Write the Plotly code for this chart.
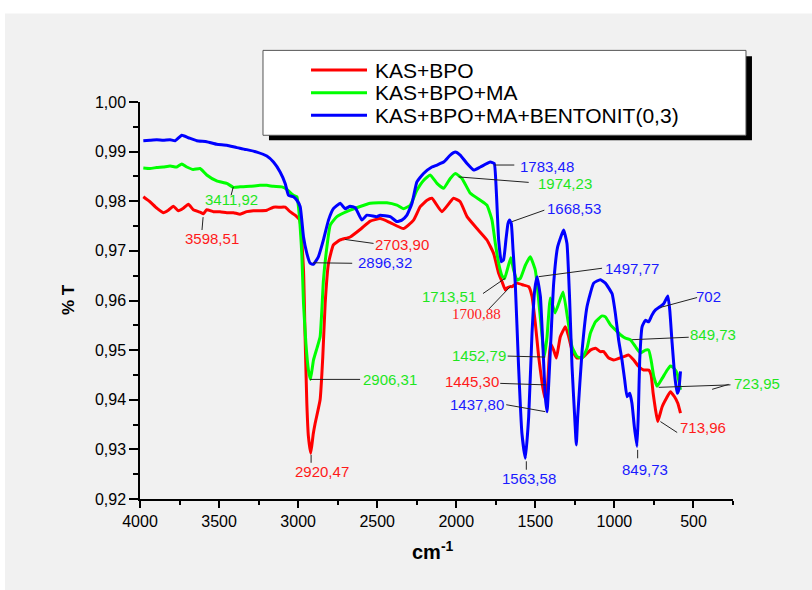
import plotly.graph_objects as go

# ---------------- data (wavenumber cm-1, transmittance) ----------------
red_spectrum = [
    (3979, 0.9809), (3937, 0.9799), (3894, 0.9786), (3853, 0.9777), (3821, 0.9782),
    (3789, 0.9790), (3758, 0.9781), (3726, 0.9786), (3694, 0.9794), (3663, 0.9783),
    (3620, 0.9778), (3599, 0.9775), (3578, 0.9783), (3536, 0.9779), (3494, 0.9779),
    (3451, 0.9777), (3409, 0.9777), (3367, 0.9774), (3325, 0.9779), (3283, 0.9781),
    (3241, 0.9781), (3198, 0.9782), (3156, 0.9788), (3114, 0.9788), (3082, 0.9788),
    (3051, 0.9779), (3019, 0.9772), (2990, 0.9762), (2966, 0.9661), (2956, 0.9527),
    (2945, 0.9393), (2935, 0.9326), (2920, 0.9292), (2905, 0.9330), (2892, 0.9353),
    (2861, 0.9400), (2844, 0.9487), (2829, 0.9594), (2808, 0.9675), (2777, 0.9712),
    (2734, 0.9722), (2671, 0.9728), (2600, 0.9745), (2544, 0.9760), (2481, 0.9765),
    (2418, 0.9757), (2334, 0.9745), (2270, 0.9762), (2228, 0.9789), (2185, 0.9802),
    (2154, 0.9806), (2091, 0.9779), (2017, 0.9806), (1975, 0.9799), (1932, 0.9769),
    (1869, 0.9745), (1806, 0.9722), (1764, 0.9695), (1732, 0.9655), (1711, 0.9638),
    (1690, 0.9621), (1681, 0.9625), (1658, 0.9628), (1647, 0.9628), (1616, 0.9635),
    (1574, 0.9631), (1542, 0.9628), (1521, 0.9608), (1500, 0.9554), (1479, 0.9487),
    (1457, 0.9433), (1440, 0.9403), (1422, 0.9433), (1405, 0.9514), (1384, 0.9500),
    (1367, 0.9484), (1342, 0.9527), (1310, 0.9547), (1289, 0.9527), (1268, 0.9500),
    (1236, 0.9484), (1194, 0.9487), (1152, 0.9500), (1120, 0.9504), (1089, 0.9497),
    (1068, 0.9497), (1036, 0.9484), (1004, 0.9480), (941, 0.9487), (909, 0.9490),
    (878, 0.9480), (846, 0.9467), (815, 0.9460), (783, 0.9460), (768, 0.9450),
    (755, 0.9413), (740, 0.9380), (726, 0.9356), (698, 0.9386), (671, 0.9403),
    (646, 0.9416), (620, 0.9406), (599, 0.9393), (582, 0.9373),
]

green_spectrum = [
    (3979, 0.9867), (3937, 0.9866), (3894, 0.9868), (3853, 0.9869), (3810, 0.9871),
    (3768, 0.9869), (3736, 0.9875), (3704, 0.9869), (3663, 0.9864), (3620, 0.9866),
    (3578, 0.9853), (3515, 0.9841), (3451, 0.9836), (3409, 0.9828), (3367, 0.9829),
    (3304, 0.9830), (3241, 0.9832), (3198, 0.9832), (3156, 0.9830), (3103, 0.9829),
    (3072, 0.9824), (3030, 0.9812), (3008, 0.9809), (2998, 0.9789), (2977, 0.9695),
    (2966, 0.9594), (2951, 0.9514), (2935, 0.9460), (2922, 0.9441), (2903, 0.9480),
    (2880, 0.9505), (2861, 0.9527), (2850, 0.9581), (2840, 0.9641), (2818, 0.9708),
    (2797, 0.9752), (2755, 0.9769), (2671, 0.9782), (2544, 0.9796), (2439, 0.9797),
    (2375, 0.9792), (2334, 0.9785), (2291, 0.9792), (2249, 0.9822), (2207, 0.9842),
    (2165, 0.9853), (2122, 0.9836), (2080, 0.9826), (2038, 0.9846), (2006, 0.9856),
    (1964, 0.9846), (1911, 0.9816), (1848, 0.9802), (1806, 0.9792), (1774, 0.9762),
    (1753, 0.9715), (1732, 0.9675), (1711, 0.9650), (1695, 0.9644), (1675, 0.9665),
    (1655, 0.9686), (1637, 0.9661), (1616, 0.9641), (1594, 0.9645), (1563, 0.9671),
    (1532, 0.9688), (1500, 0.9661), (1479, 0.9601), (1457, 0.9527), (1443, 0.9487),
    (1426, 0.9527), (1405, 0.9605), (1375, 0.9575), (1325, 0.9617), (1294, 0.9560),
    (1268, 0.9507), (1236, 0.9487), (1204, 0.9484), (1173, 0.9504), (1152, 0.9534),
    (1120, 0.9557), (1078, 0.9569), (1057, 0.9567), (1025, 0.9551), (994, 0.9541),
    (962, 0.9531), (930, 0.9524), (899, 0.9521), (867, 0.9507), (835, 0.9494),
    (804, 0.9500), (783, 0.9500), (768, 0.9480), (751, 0.9447), (730, 0.9427),
    (698, 0.9443), (666, 0.9460), (646, 0.9468), (625, 0.9464), (603, 0.9453),
    (582, 0.9420),
]

blue_spectrum = [
    (3979, 0.9922), (3937, 0.9923), (3894, 0.9924), (3853, 0.9923), (3810, 0.9924),
    (3778, 0.9922), (3736, 0.9933), (3694, 0.9928), (3641, 0.9922), (3578, 0.9920),
    (3515, 0.9915), (3451, 0.9913), (3388, 0.9908), (3325, 0.9904), (3261, 0.9899),
    (3198, 0.9891), (3156, 0.9879), (3114, 0.9859), (3082, 0.9836), (3061, 0.9812),
    (3030, 0.9809), (3008, 0.9802), (2987, 0.9789), (2966, 0.9728), (2945, 0.9695),
    (2924, 0.9675), (2903, 0.9673), (2872, 0.9688), (2840, 0.9722), (2808, 0.9762),
    (2777, 0.9785), (2734, 0.9796), (2703, 0.9785), (2671, 0.9790), (2639, 0.9787),
    (2597, 0.9762), (2565, 0.9772), (2502, 0.9769), (2481, 0.9772), (2418, 0.9769),
    (2375, 0.9759), (2344, 0.9762), (2312, 0.9772), (2280, 0.9796), (2249, 0.9839),
    (2207, 0.9856), (2154, 0.9869), (2122, 0.9873), (2080, 0.9879), (2038, 0.9893),
    (2006, 0.9899), (1975, 0.9893), (1932, 0.9876), (1890, 0.9863), (1848, 0.9869),
    (1785, 0.9879), (1760, 0.9876), (1747, 0.9822), (1732, 0.9722), (1715, 0.9678),
    (1701, 0.9682), (1686, 0.9722), (1673, 0.9755), (1663, 0.9762), (1652, 0.9755),
    (1641, 0.9702), (1627, 0.9635), (1606, 0.9467), (1585, 0.9333), (1563, 0.9282),
    (1542, 0.9366), (1521, 0.9534), (1504, 0.9621), (1489, 0.9648), (1468, 0.9608),
    (1451, 0.9500), (1437, 0.9406), (1426, 0.9376), (1405, 0.9500), (1384, 0.9635),
    (1359, 0.9708), (1321, 0.9742), (1300, 0.9715), (1283, 0.9601), (1268, 0.9467),
    (1249, 0.9353), (1241, 0.9309), (1232, 0.9366), (1204, 0.9500), (1173, 0.9588),
    (1131, 0.9635), (1089, 0.9642), (1057, 0.9635), (1015, 0.9614), (994, 0.9574),
    (973, 0.9520), (952, 0.9480), (935, 0.9440), (920, 0.9406), (903, 0.9413),
    (889, 0.9393), (874, 0.9346), (857, 0.9306), (848, 0.9380), (840, 0.9480),
    (825, 0.9547), (804, 0.9560), (783, 0.9557), (762, 0.9571), (740, 0.9581),
    (709, 0.9588), (687, 0.9594), (662, 0.9609), (650, 0.9581), (635, 0.9514),
    (618, 0.9447), (603, 0.9413), (593, 0.9420), (582, 0.9457),
]

series_names = ["KAS+BPO", "KAS+BPO+MA", "KAS+BPO+MA+BENTONIT(0,3)"]
series_colors = ["#ff0000", "#00ff00", "#0000ff"]

x_tick_values = [4000, 3500, 3000, 2500, 2000, 1500, 1000, 500]
x_tick_labels = ["4000", "3500", "3000", "2500", "2000", "1500", "1000", "500"]
y_tick_values = [0.92, 0.93, 0.94, 0.95, 0.96, 0.97, 0.98, 0.99, 1.00]
y_tick_labels = ["0,92", "0,93", "0,94", "0,95", "0,96", "0,97", "0,98", "0,99", "1,00"]

# peak labels: text, label x, label y, leader (x0, y0, x1, y1), series index
peak_labels = [
    ("3598,51", 3546, 0.9725, (3601, 0.9768, 3608, 0.9742), 0),
    ("2703,90", 2344, 0.9713, (2703, 0.9723, 2523, 0.9715), 0),
    ("2920,47", 2850, 0.9256, (2918, 0.9289, 2918, 0.9273), 0),
    ("1700,88", 1869, 0.9572, (1658, 0.9628, 1796, 0.9582), 0),
    ("1445,30", 1901, 0.9437, (1722, 0.9433, 1437, 0.9430), 0),
    ("713,96", 439, 0.9344, (709, 0.9356, 603, 0.9334), 0),
    ("3411,92", 3420, 0.9804, (3410, 0.9829, 3424, 0.9812), 1),
    ("2906,31", 2418, 0.9440, (2924, 0.9441, 2608, 0.9441), 1),
    ("1974,23", 1310, 0.9836, (1985, 0.9849, 1542, 0.9838), 1),
    ("1713,51", 2044, 0.9609, (1690, 0.9645, 1831, 0.9614), 1),
    ("1452,79", 1859, 0.9490, (1675, 0.9488, 1437, 0.9486), 1),
    ("849,73", 375, 0.9531, (888, 0.9521, 530, 0.9526), 1),
    ("2896,32", 2449, 0.9676, (2905, 0.9676, 2658, 0.9675), 2),
    ("1783,48", 1426, 0.9871, (1759, 0.9873, 1633, 0.9873), 2),
    ("1668,53", 1258, 0.9785, (1647, 0.9759, 1443, 0.9782), 2),
    ("1497,77", 888, 0.9665, (1479, 0.9648, 1078, 0.9665), 2),
    ("1437,80", 1869, 0.9390, (1684, 0.9390, 1437, 0.9376), 2),
    ("1563,58", 1538, 0.9242, (1557, 0.9276, 1557, 0.9259), 2),
    ("849,73", 804, 0.9259, (853, 0.9299, 853, 0.9282), 2),
    ("702", 403, 0.9608, (709, 0.9586, 477, 0.9606), 2),
]
# the 723,95 label sits right of the axis end, so it is placed in paper units
outside_label = ("723,95", 1.0405, 0.290, (720, 0.9425, 266, 0.9430), 1)
extra_leader = (382, 0.9421, 277, 0.9431)

label_colors = ["#ff1a1a", "#1ee61e", "#1a1aff"]
serif_labels = {"1700,88"}
sans = "Liberation Sans, Arial, sans-serif"
serif = "Liberation Serif, Times New Roman, serif"

# ---------------- figure ----------------
fig = go.Figure()
for name, pts, color in zip(series_names, [red_spectrum, green_spectrum, blue_spectrum], series_colors):
    wn, t = zip(*pts)
    fig.add_trace(go.Scatter(x=list(wn), y=list(t), mode="lines", name=name,
                             line=dict(color=color, width=3, shape="spline", smoothing=0.4),
                             showlegend=False))

shapes = []
annotations = []

# background: gray panel with thin white strip top/left
shapes.append(dict(type="rect", xref="paper", yref="paper", x0=-0.2277, x1=1.2, y0=-0.3, y1=1.2231,
                   fillcolor="#f1f1f1", line=dict(width=0), layer="below"))

def leader(x0, y0, x1, y1):
    return dict(type="line", xref="x", yref="y", x0=x0, y0=y0, x1=x1, y1=y1,
                line=dict(color="#222222", width=1))

for text, lx, ly, (x0, y0, x1, y1), si in peak_labels:
    shapes.append(leader(x0, y0, x1, y1))
    fam = serif if text in serif_labels else sans
    annotations.append(dict(x=lx, y=ly, xref="x", yref="y", text=text, showarrow=False,
                            xanchor="center", yanchor="middle",
                            font=dict(family=fam, size=15, color=label_colors[si])))

otext, ox, oy, (x0, y0, x1, y1), osi = outside_label
shapes.append(leader(x0, y0, x1, y1))
shapes.append(leader(*extra_leader))
annotations.append(dict(x=ox, y=oy, xref="paper", yref="paper", text=otext, showarrow=False,
                        xanchor="center", yanchor="middle",
                        font=dict(family=sans, size=15, color=label_colors[osi])))

# legend box (shadow + white box)
shapes.append(dict(type="rect", xref="paper", yref="paper", x0=0.2175, x1=1.032, y0=0.9037, y1=1.115,
                   fillcolor="#000000", line=dict(width=0), layer="above"))
shapes.append(dict(type="rect", xref="paper", yref="paper", x0=0.2074, x1=1.0219, y0=0.9162, y1=1.130,
                   fillcolor="#ffffff", line=dict(color="#555555", width=1), layer="above"))
legend_rows = [1.0805, 1.0236, 0.9666]
for name, color, yy in zip(series_names, series_colors, legend_rows):
    shapes.append(dict(type="line", xref="paper", yref="paper", x0=0.2884, x1=0.3828, y0=yy, y1=yy,
                       line=dict(color=color, width=3), layer="above"))
    annotations.append(dict(x=0.3930, y=yy, xref="paper", yref="paper", text=name, showarrow=False,
                            xanchor="left", yanchor="middle",
                            font=dict(family=sans, size=21, color="#000000")))

# axis titles
annotations.append(dict(x=0.494, y=-0.13, xref="paper", yref="paper", text="<b>cm<sup>-1</sup></b>",
                        showarrow=False, xanchor="center", yanchor="middle",
                        font=dict(family=sans, size=20, color="#000000")))
annotations.append(dict(x=-0.1214, y=0.501, xref="paper", yref="paper", text="<b>% T</b>",
                        showarrow=False, xanchor="center", yanchor="middle", textangle=-90,
                        font=dict(family=sans, size=17, color="#000000")))

fig.update_layout(
    width=812, height=590, autosize=False,
    margin=dict(l=140, r=79, t=102, b=91, pad=0),
    paper_bgcolor="#ffffff", plot_bgcolor="rgba(0,0,0,0)",
    shapes=shapes, annotations=annotations, showlegend=False,
    font=dict(family=sans, size=16, color="#000000"),
)
fig.update_xaxes(range=[4000, 250], tickmode="array", tickvals=x_tick_values, ticktext=x_tick_labels,
                 ticks="outside", ticklen=7, tickwidth=1.5, tickcolor="#000000",
                 showline=True, linecolor="#000000", linewidth=1.5, showgrid=False, zeroline=False,
                 tickfont=dict(size=16),
                 minor=dict(tickvals=[3750, 3250, 2750, 2250, 1750, 1250, 750, 250], ticks="outside",
                            ticklen=4, tickwidth=1.5, tickcolor="#000000", showgrid=False))
fig.update_yaxes(range=[0.92, 1.00], tickmode="array", tickvals=y_tick_values, ticktext=y_tick_labels,
                 ticks="outside", ticklen=9, tickwidth=1.5, tickcolor="#000000",
                 showline=True, linecolor="#000000", linewidth=1.5, showgrid=False, zeroline=False,
                 tickfont=dict(size=16),
                 minor=dict(tickvals=[0.925, 0.935, 0.945, 0.955, 0.965, 0.975, 0.985, 0.995],
                            ticks="outside", ticklen=5, tickwidth=1.5, tickcolor="#000000", showgrid=False))

fig.write_html("out.html")
